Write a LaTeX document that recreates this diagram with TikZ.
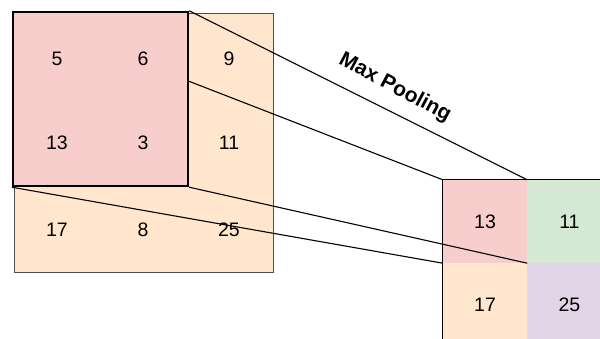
\documentclass[tikz,border=0pt]{standalone}
\usepackage{fontspec}
\setmainfont{Liberation Sans}
\usepackage{tikz}
\usetikzlibrary{positioning}
\usetikzlibrary{calc}
\definecolor{cellred}{HTML}{F8CECC}
\definecolor{cellorange}{HTML}{FFE6CC}
\definecolor{cellgreen}{HTML}{D5E8D4}
\definecolor{cellpurple}{HTML}{E1D5E7}
\tikzset{
	fmapbox/.style={draw=black!70, fill=cellorange, line width=0.6pt, inner sep=0pt},
	window/.style={draw=black, fill=cellred, line width=2.4pt, inner sep=0pt},
	poolcell/.style={inner sep=0pt, minimum width=84pt, minimum height=83pt},
	num/.style={font=\fontsize{19.5}{22}\selectfont},
	link/.style={draw=black, line width=1.1pt},
}

\begin{document}
\begin{tikzpicture}[x=1pt, y=-1pt]
	\useasboundingbox (0,0) rectangle (600,339);
	\clip (0,0) rectangle (600,339);
	% input feature map and the 2x2 window
	\node[fmapbox, minimum width=259pt, minimum height=259pt] (fmap) at (143.5,142.5) {};
	\node[window, minimum width=175pt, minimum height=174pt] (win) at (100.5,99) {};
	\node[num] (a11) at (57,59) {5};
	\node[num] (a12) at (143,59) {6};
	\node[num] (a13) at (229,59) {9};
	\node[num] (a21) at (57,143) {13};
	\node[num] (a22) at (143,143) {3};
	\node[num] (a23) at (229,143) {11};
	\node[num] (a31) at (57,230) {17};
	\node[num] (a32) at (143,230) {8};
	\node[num] (a33) at (229,230) {25};
	% pooled output
	\node[poolcell, fill=cellred] (p11) at (485,221.5) {};
	\node[poolcell, fill=cellgreen, right=0pt of p11] (p12) {};
	\node[poolcell, fill=cellorange, below=0pt of p11] (p21) {};
	\node[poolcell, fill=cellpurple, right=0pt of p21] (p22) {};
	\draw[line width=0.8pt] (p21.south west) -- (p11.north west) -- (p12.north east);
	\node[num] at (p11) {13};
	\node[num] at (p12) {11};
	\node[num] at (p21) {17};
	\node[num] at (p22) {25};
	\coordinate (winside) at ($(win.north east)!0.4!(win.south east)$);
	\draw[link] (win.north east) -- (p11.north east);
	\draw[link] (winside) -- (p11.north west);
	\draw[link] (win.south east) -- (p11.south east);
	\draw[link] (win.south west) -- (p21.north west);
	\node[font=\bfseries\fontsize{21}{23}\selectfont, rotate=-28] (lbl) at (395,88) {Max Pooling};
\end{tikzpicture}
\end{document}
